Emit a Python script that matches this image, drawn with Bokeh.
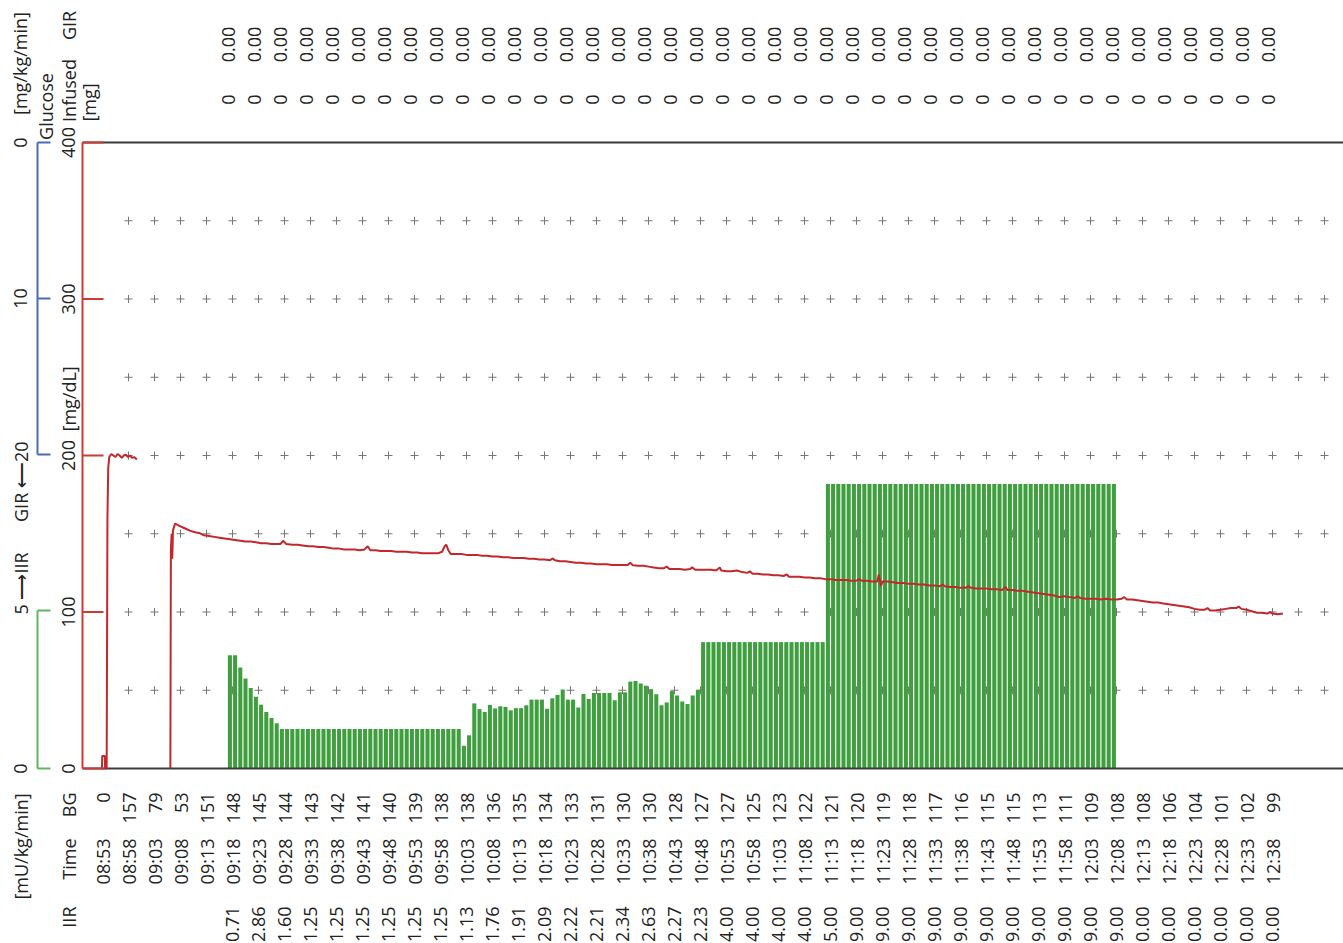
import math
from bokeh.plotting import figure
from bokeh.models import Range1d
from bokeh.core.properties import value
from bokeh.embed import file_html
from bokeh.resources import INLINE

# ---------------- data ----------------
times = ["08:53", "08:58", "09:03", "09:08", "09:13", "09:18", "09:23", "09:28", "09:33", "09:38",
         "09:43", "09:48", "09:53", "09:58", "10:03", "10:08", "10:13", "10:18", "10:23", "10:28",
         "10:33", "10:38", "10:43", "10:48", "10:53", "10:58", "11:03", "11:08", "11:13", "11:18",
         "11:23", "11:28", "11:33", "11:38", "11:43", "11:48", "11:53", "11:58", "12:03", "12:08",
         "12:13", "12:18", "12:23", "12:28", "12:33", "12:38"]
time_minutes = [5 * i for i in range(len(times))]          # minutes after 08:53

bg_values = [0, 157, 79, 53, 151, 148, 145, 144, 143, 142,
             141, 140, 139, 138, 138, 136, 135, 134, 133, 131,
             130, 130, 128, 127, 127, 125, 123, 122, 121, 120,
             119, 118, 117, 116, 115, 115, 113, 111, 109, 108,
             108, 106, 104, 101, 102, 99]

# table columns that start at 09:18
iir_table = [0.71, 2.86, 1.60, 1.25, 1.25, 1.25, 1.25, 1.25, 1.25, 1.13,
             1.76, 1.91, 2.09, 2.22, 2.21, 2.34, 2.63, 2.27, 2.23, 4.00,
             4.00, 4.00, 4.00, 5.00] + [9.00] * 11 + [0.00] * 6
gir_table = [0.00] * 41
glucose_infused_table = [0] * 41
table_first_col = 5

# insulin infusion rate, one bar per minute, starting at minute 24
iir_bar_start = 24
iir_per_minute = ([3.58, 3.58, 3.20, 2.85, 2.55, 2.27, 2.02, 1.79, 1.60, 1.43]
                  + [1.25] * 35
                  + [0.72, 1.05, 2.06, 1.88, 1.79, 2.01, 1.90, 1.97, 1.95, 1.84,
                     1.91, 1.91, 2.00, 2.18, 2.18, 2.18, 1.89, 2.22, 2.33, 2.50,
                     2.18, 2.18, 1.93, 2.36, 2.20, 2.39, 2.39, 2.39, 2.39, 2.16,
                     2.41, 2.41, 2.75, 2.77, 2.69, 2.62, 2.51, 2.35, 2.00, 2.09,
                     2.45, 2.31, 2.12, 2.04, 2.31, 2.49]
                  + [4.00] * 24
                  + [9.00] * 56)

# blood glucose trace [mg/dL]
trace1_t = [-0.1, -0.05, 0.45, 0.5, 0.8, 0.95, 1.1, 1.3, 1.7, 2.1, 2.5, 2.9, 3.3, 3.7,
            4.1, 4.5, 4.9, 5.3, 5.7, 6.1, 6.6]
trace1_g = [0, 8, 8, 0, 0, 160, 192, 199, 201, 200, 199, 201, 200, 198.5,
            200, 200.5, 199, 200, 198.5, 199, 197.5]

trace2_t = [13.05, 13.15, 13.3, 13.42, 13.55, 13.95, 14.8, 15.8, 16.8, 17.8, 18.6, 19.5,
            20.5, 21.5, 22.5, 23.5, 24.5, 25.5, 26.5, 27.5, 28.5, 29.5, 30.5, 31.5, 32.5,
            34.2, 34.8, 35.3,
            36.5, 37.5, 38.5, 39.5, 40.5, 41.5, 42.5, 43.5, 44.5, 45.5, 46.5, 47.5, 48.5, 49.5,
            50.4, 51.0, 51.5,
            52.5, 53.5, 54.5, 55.5, 56.5, 57.5, 58.5, 59.5, 60.5, 61.5, 62.5, 63.5, 64.5,
            65.3, 65.8, 66.1, 66.5, 67.0]
trace2_g = [0, 140, 150, 134, 152, 156.5, 155, 153.5, 152, 151, 150.5, 149,
            148.5, 148, 147.5, 147, 146.5, 146, 145.5, 145, 145, 144.5, 144, 144, 143.5,
            143.5, 145.5, 143.5,
            143, 143, 142.5, 142, 142, 141.5, 141.5, 141, 140.5, 140.5, 140, 140, 140, 139.5,
            140, 142, 139.5,
            139.5, 139, 139, 139, 138.5, 138.5, 138.5, 138, 138, 137.5, 137.5, 137.5, 137.5,
            138.5, 142, 143, 139.5, 137]

trace3_start = 68          # one reading per minute from minute 68
trace3_g = [137, 137, 136.5, 136.5, 136.5, 136, 136, 135.5, 135.5, 135,
            135, 134.5, 134.5, 134.5, 134, 134, 133.5, 133.5, 133, 133,
            132.5, 132.5, 132, 131.5, 131.5, 131, 131, 130.5, 130.5, 130.5,
            130, 130, 130, 130, 129.8, 129.5, 129.5, 129, 128.5, 128,
            128, 127.5, 127.5, 127.5, 127, 127.5, 127, 127, 127, 127,
            126.5, 126.5, 126, 126, 126.5, 125.5, 125, 124.5, 124.5, 124,
            124, 123.5, 123.5, 123, 122.5, 122.5, 122.5, 122, 122, 121.5,
            121.5, 121, 121, 120.5, 120.5, 120.5, 120, 120, 120, 120,
            119.5, 119.5, 119.5, 119.5, 119, 118.5, 118.5, 118, 118, 117.5,
            117.5, 117, 117, 116.5, 116.5, 116, 116, 115.5, 115.5, 115.5,
            115, 115, 115, 114.5, 114.5, 114, 114, 114, 113.5, 113.5,
            113, 112.5, 112, 111.5, 111, 110.5, 109.5, 110, 109.5, 109,
            109, 108.5, 108.5, 108.5, 108, 108.5, 108, 108, 108.5, 108,
            108, 107.5, 107, 106.5, 106, 106, 105.5, 105, 104.5, 104,
            103.5, 103, 102, 101.5, 101.5, 101, 101, 101.5, 102, 102.5,
            102.5, 102, 101.5, 100.5, 99.5, 99.5, 99, 99, 98.5, 99]
blips_t = [86.6, 101.5, 108.5, 113.4, 118.7, 124.5, 131.6, 145.5, 149.3, 149.7,
           161.6, 166.6, 173.7, 187.5, 196.5, 212.5, 218.5, 224.5]
blips_g = [134.2, 131.5, 129, 128.5, 128.5, 126, 124, 121, 124, 116.5,
           117.5, 116.5, 116, 110, 109.5, 102.5, 103.5, 100]

glucose_ticks = [0, 100, 200, 300, 400]
gir_ticks = [0, 10, 20]
iir_ticks = [0, 5]
grid_glucose = [50, 100, 150, 200, 250, 300, 350]
grid_minutes = [5 * i for i in range(1, 48)]

# ---------------- layout / style ----------------
W, H = 1343, 943
PAGE = 0
X_T0, PX_MIN = 102.0, 5.2        # screen x of minute 0, px per minute
Y_G0, PX_G = 768.0, 1.565        # screen y of glucose 0, px per mg/dL
PX_IIR = 31.6                    # px per mU/kg/min
Y_GIR0, PX_GIR = 142.0, 15.6     # GIR axis grows downward from top

FONT = "Open Sans"
FS = "18px"
INK = "#222222"
RED = "#c1272d"
RED_AX = "#cf3a36"
BLUE = "#4a6cb3"
GREEN_AX = "#5cb85c"
BAR = "#3f9f3f"
FRAME = "#3a3a3a"


def tx(X):
    return (X - X_T0) / PX_MIN


def gy(Y):
    return (Y_G0 - Y) / PX_G


p = figure(width=W, height=H,
           x_range=Range1d(tx(PAGE), tx(PAGE + W)),
           y_range=Range1d(gy(PAGE + H), gy(PAGE)),
           output_backend="svg", toolbar_location=None,
           x_axis_location=None, y_axis_location=None,
           min_border=0, outline_line_color=None,
           background_fill_color="white", border_fill_color="white")
p.xgrid.visible = False
p.ygrid.visible = False
p.extra_y_ranges = {
    "iir": Range1d((Y_G0 - (PAGE + H)) / PX_IIR, (Y_G0 - PAGE) / PX_IIR),
    "gir": Range1d((PAGE + H - Y_GIR0) / PX_GIR, (PAGE - Y_GIR0) / PX_GIR),
}

# grid crosses
gx = [t for g in grid_glucose for t in grid_minutes]
gyv = [g for g in grid_glucose for t in grid_minutes]
p.scatter(x=gx, y=gyv, marker="cross", size=8, line_color="#777777", line_width=1)

# insulin bars
bar_x = [iir_bar_start + i + 0.5 for i in range(len(iir_per_minute))]
p.vbar(x=bar_x, top=iir_per_minute, bottom=0, width=0.78,
       fill_color=BAR, line_color=None, y_range_name="iir")

# frame lines
x_end = tx(PAGE + W)
axis_t = tx(82)
p.segment(x0=[axis_t, axis_t], y0=[0, 400], x1=[x_end, x_end], y1=[0, 400],
          line_color=FRAME, line_width=2)

# glucose trace
pts = sorted([(trace3_start + i, g) for i, g in enumerate(trace3_g)] +
             list(zip(blips_t, blips_g)) + list(zip(trace2_t, trace2_g)))
line_t = trace1_t + [float("nan")] + [a for a, b in pts]
line_g = trace1_g + [float("nan")] + [b for a, b in pts]
p.line(line_t, line_g, line_color=RED, line_width=2)

# red glucose axis
p.segment(x0=[axis_t], y0=[0], x1=[axis_t], y1=[400], line_color=RED_AX, line_width=2)
p.segment(x0=[axis_t] * 5, y0=glucose_ticks, x1=[tx(103)] * 5, y1=glucose_ticks,
          line_color=RED_AX, line_width=2)

# blue GIR axis
gax = tx(37)
p.segment(x0=[gax], y0=[0], x1=[gax], y1=[20], line_color=BLUE, line_width=2, y_range_name="gir")
p.segment(x0=[gax] * 3, y0=gir_ticks, x1=[tx(50)] * 3, y1=gir_ticks,
          line_color=BLUE, line_width=2, y_range_name="gir")

# green IIR axis
p.segment(x0=[gax], y0=[0], x1=[gax], y1=[5], line_color=GREEN_AX, line_width=2, y_range_name="iir")
p.segment(x0=[gax] * 2, y0=iir_ticks, x1=[tx(50)] * 2, y1=iir_ticks,
          line_color=GREEN_AX, line_width=2, y_range_name="iir")


def label(xs, ys, texts, align="center", rng="default"):
    p.text(x=xs, y=ys, text=texts, angle=math.pi / 2, text_align=align,
           text_baseline="middle", text_font=value(FONT), text_font_size=FS,
           text_color=INK, y_range_name=rng)


# axis tick labels
label([tx(68)] * 5, glucose_ticks, [str(v) for v in glucose_ticks])
label([tx(68)], [gy(431)], ["[mg/dL]"], align="left")
label([tx(20)] * 2, gir_ticks[:2], [str(v) for v in gir_ticks[:2]], rng="gir")
label([tx(20)], [gy(441)], ["GIR \u27f5" + str(gir_ticks[2])], align="right")
label([tx(20)], [gy(614)], [str(iir_ticks[1]) + " \u27f6IIR"], align="left")
label([tx(20)], [iir_ticks[0]], [str(iir_ticks[0])], rng="iir")

# header table
label([tx(19)], [gy(63)], ["[mg/kg/min]"])
label([tx(68)], [gy(25)], ["GIR"])
label([tx(45)], [gy(106)], ["Glucose"])
label([tx(68)], [gy(90)], ["Infused"])
label([tx(88)], [gy(102)], ["[mg]"])
top_x = [time_minutes[table_first_col + i] - 4 / PX_MIN for i in range(len(gir_table))]
label(top_x, [gy(44)] * len(top_x), ["%.2f" % v for v in gir_table])
label(top_x, [gy(99)] * len(top_x), [str(v) for v in glucose_infused_table])

# bottom table
label([tx(20)], [gy(846)], ["[mU/kg/min]"])
label([tx(68)], [gy(792)], ["BG"], align="right")
label([t + 1 / PX_MIN for t in time_minutes], [gy(792)] * len(times),
      [str(v) for v in bg_values], align="right")
label([tx(68)], [gy(838)], ["Time"], align="right")
label(time_minutes, [gy(838)] * len(times), times, align="right")
label([tx(68)], [gy(906)], ["IIR"], align="right")
iir_x = [time_minutes[table_first_col + i] for i in range(len(iir_table))]
label(iir_x, [gy(906)] * len(iir_x), ["%.2f" % v for v in iir_table], align="right")

open("out.html", "w").write(file_html(p, INLINE))
